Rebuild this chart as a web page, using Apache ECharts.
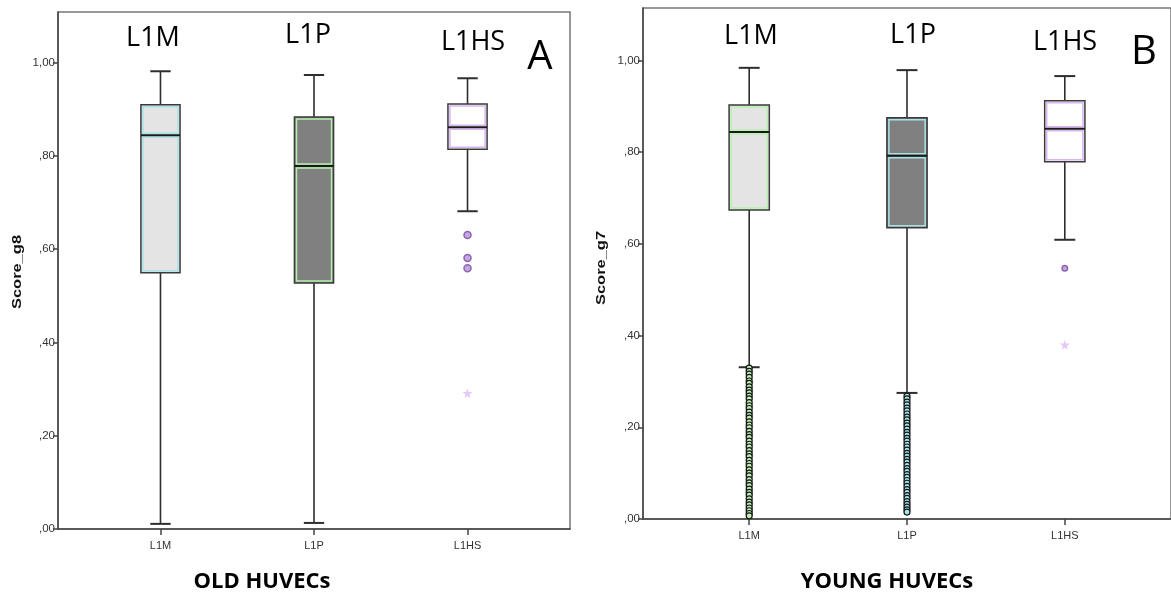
<!DOCTYPE html>
<html>
<head>
<meta charset="utf-8">
<script src="https://cdn.jsdelivr.net/npm/echarts@6/dist/echarts.min.js"></script>
<style>
html,body{margin:0;padding:0;background:#fff;}
#chart{width:1171px;height:596px;}
</style>
</head>
<body>
<div id="chart"></div>
<script>
// ---------- data ----------
const categories = ['L1M', 'L1P', 'L1HS'];
const yTicks = [0, 0.2, 0.4, 0.6, 0.8, 1.0];
const yTickLabels = [',00', ',20', ',40', ',60', ',80', '1,00'];

// [min whisker, Q1, median, Q3, max whisker]
const oldBoxes = [
  [0.011, 0.549, 0.844, 0.909, 0.981],
  [0.013, 0.527, 0.778, 0.883, 0.973],
  [0.681, 0.814, 0.861, 0.911, 0.966]
];
const youngBoxes = [
  [0.331, 0.674, 0.844, 0.903, 0.984],
  [0.275, 0.635, 0.792, 0.875, 0.979],
  [0.609, 0.779, 0.851, 0.912, 0.966]
];

const oldOutliersL1HS = [0.630, 0.581, 0.559];
const oldExtremesL1HS = [0.291];

const youngOutliersL1M = [0.329, 0.322, 0.316, 0.309, 0.301, 0.296, 0.288, 0.281, 0.275, 0.268,
  0.262, 0.254, 0.247, 0.241, 0.233, 0.226, 0.220, 0.212, 0.205, 0.199, 0.191, 0.184, 0.178,
  0.170, 0.163, 0.157, 0.149, 0.142, 0.136, 0.128, 0.121, 0.115, 0.107, 0.100, 0.094, 0.086,
  0.079, 0.073, 0.065, 0.058, 0.052, 0.044, 0.037, 0.031, 0.024, 0.018, 0.012, 0.007];
const youngOutliersL1P = [0.268, 0.262, 0.255, 0.249, 0.242, 0.236, 0.229, 0.222, 0.216, 0.209,
  0.203, 0.196, 0.189, 0.183, 0.176, 0.170, 0.163, 0.157, 0.150, 0.143, 0.137, 0.130, 0.124,
  0.117, 0.110, 0.104, 0.097, 0.091, 0.084, 0.078, 0.071, 0.064, 0.058, 0.051, 0.045, 0.038,
  0.032, 0.026, 0.020, 0.015];
const youngOutliersL1HS = [0.547];
const youngExtremesL1HS = [0.380];

// ---------- styles ----------
const boxFill = ['#e4e4e4', '#808080', '#ffffff'];
const oldInner = ['#a6e4ea', '#b8f0b0', '#d9b4f2'];
const youngInner = ['#b8f0b0', '#a6e4ea', '#d9b4f2'];
const dark = '#2e2e2e';
const starPath = 'path://M50,0 L61,35 L98,35 L68,57 L79,91 L50,70 L21,91 L32,57 L2,35 L39,35 Z';

function makeRender(innerColors) {
  return function (params, api) {
    const x = api.value(0);
    const v = [1, 2, 3, 4, 5].map(i => api.value(i));
    const p = v.map(val => api.coord([x, val]));
    const cx = p[0][0];
    const w = api.size([1, 0])[0] * 0.255;
    const cap = w * 0.52;
    const left = cx - w / 2;
    const i = params.dataIndex;
    const inset = 2;
    const children = [
      { type: 'line', shape: { x1: cx, y1: p[0][1], x2: cx, y2: p[1][1] }, style: { stroke: dark, lineWidth: 1.6 } },
      { type: 'line', shape: { x1: cx, y1: p[3][1], x2: cx, y2: p[4][1] }, style: { stroke: dark, lineWidth: 1.6 } },
      { type: 'line', shape: { x1: cx - cap / 2, y1: p[0][1], x2: cx + cap / 2, y2: p[0][1] }, style: { stroke: dark, lineWidth: 2 } },
      { type: 'line', shape: { x1: cx - cap / 2, y1: p[4][1], x2: cx + cap / 2, y2: p[4][1] }, style: { stroke: dark, lineWidth: 2 } },
      { type: 'rect', shape: { x: left, y: p[3][1], width: w, height: p[1][1] - p[3][1] }, style: { fill: boxFill[i], stroke: null } },
      { type: 'rect', shape: { x: left + inset, y: p[3][1] + inset, width: w - 2 * inset, height: p[2][1] - p[3][1] - 2 * inset }, style: { fill: null, stroke: innerColors[i], lineWidth: 1.5 } },
      { type: 'rect', shape: { x: left + inset, y: p[2][1] + inset, width: w - 2 * inset, height: p[1][1] - p[2][1] - 2 * inset }, style: { fill: null, stroke: innerColors[i], lineWidth: 1.5 } },
      { type: 'rect', shape: { x: left, y: p[3][1], width: w, height: p[1][1] - p[3][1] }, style: { fill: null, stroke: '#3a3a3a', lineWidth: 1.5 } },
      { type: 'line', shape: { x1: left, y1: p[2][1], x2: left + w, y2: p[2][1] }, style: { stroke: '#1a1a1a', lineWidth: 2 } }
    ];
    return { type: 'group', children: children };
  };
}

const yFmt = v => {
  const k = yTicks.findIndex(t => Math.abs(t - v) < 1e-6);
  return k >= 0 ? yTickLabels[k] : '';
};
const xFmt = v => categories[Math.round(v)] || '';

const labelFont = "'Liberation Sans Narrow', 'Liberation Sans', Arial, sans-serif";

function makeX(gridIndex, min, max) {
  return {
    type: 'value', gridIndex, min, max,
    splitLine: { show: false },
    axisLine: { show: true, onZero: false, lineStyle: { color: '#444', width: 1.5 } },
    axisTick: { show: true, customValues: [0, 1, 2], length: 6, lineStyle: { color: '#444', width: 1.5 } },
    axisLabel: { customValues: [0, 1, 2], formatter: xFmt, color: '#333', fontSize: 11, fontFamily: labelFont, margin: 11 }
  };
}
function makeY(gridIndex, max) {
  return {
    type: 'value', gridIndex, min: 0, max,
    splitLine: { show: false },
    axisLine: { show: true, onZero: false, lineStyle: { color: '#444', width: 1.5 } },
    axisTick: { show: true, customValues: yTicks, length: 5, lineStyle: { color: '#444', width: 1.5 } },
    axisLabel: { customValues: yTicks, formatter: yFmt, color: '#333', fontSize: 11.5, fontFamily: labelFont, margin: 3 }
  };
}

const chart = echarts.init(document.getElementById('chart'), null, { renderer: 'canvas' });

const txt = (text, x, y, size, weight) => ({
  type: 'text', x, y, z: 100,
  style: { text, fill: '#000', fontSize: size, fontWeight: weight || 'normal', fontFamily: "'Open Sans', 'Noto Sans', sans-serif", align: 'center', verticalAlign: 'middle' }
});
const yName = (text, x, y) => ({
  type: 'text', x, y, rotation: Math.PI / 2, scaleX: 1.22, z: 100,
  style: { text, fill: '#111', fontSize: 13.5, fontWeight: 'bold', fontFamily: "'Liberation Sans', Arial, sans-serif", align: 'center', verticalAlign: 'middle' }
});

chart.setOption({
  animation: false,
  backgroundColor: '#ffffff',
  grid: [
    { left: 58, top: 12, width: 512, height: 517, show: true, borderColor: '#777', borderWidth: 1.5, backgroundColor: 'transparent' },
    { left: 643, top: 8, width: 532, height: 511, show: true, borderColor: '#777', borderWidth: 1.5, backgroundColor: 'transparent' }
  ],
  xAxis: [makeX(0, -0.6675, 2.6675), makeX(1, -0.673, 2.673)],
  yAxis: [makeY(0, 1.108), makeY(1, 1.1145)],
  series: [
    {
      type: 'custom', xAxisIndex: 0, yAxisIndex: 0, renderItem: makeRender(oldInner),
      encode: { x: 0, y: [1, 2, 3, 4, 5] },
      data: oldBoxes.map((b, i) => [i].concat(b))
    },
    {
      type: 'custom', xAxisIndex: 1, yAxisIndex: 1, renderItem: makeRender(youngInner),
      encode: { x: 0, y: [1, 2, 3, 4, 5] },
      data: youngBoxes.map((b, i) => [i].concat(b))
    },
    {
      type: 'scatter', xAxisIndex: 0, yAxisIndex: 0, symbol: 'circle', symbolSize: 7,
      itemStyle: { color: '#c7a6e4', borderColor: '#8a66ad', borderWidth: 1.5, opacity: 1 },
      data: oldOutliersL1HS.map(v => [2, v])
    },
    {
      type: 'scatter', xAxisIndex: 0, yAxisIndex: 0, symbol: starPath, symbolSize: 10,
      itemStyle: { color: '#e6c8f5', opacity: 1 },
      data: oldExtremesL1HS.map(v => [2, v])
    },
    {
      type: 'scatter', xAxisIndex: 1, yAxisIndex: 1, symbol: 'circle', symbolSize: 6,
      itemStyle: { color: '#bff0b5', borderColor: '#141414', borderWidth: 1.2, opacity: 1 },
      data: youngOutliersL1M.map(v => [0, v])
    },
    {
      type: 'scatter', xAxisIndex: 1, yAxisIndex: 1, symbol: 'circle', symbolSize: 6,
      itemStyle: { color: '#a6e6ee', borderColor: '#141414', borderWidth: 1.2, opacity: 1 },
      data: youngOutliersL1P.map(v => [1, v])
    },
    {
      type: 'scatter', xAxisIndex: 1, yAxisIndex: 1, symbol: 'circle', symbolSize: 5.5,
      itemStyle: { color: '#c7a6e4', borderColor: '#8a66ad', borderWidth: 1.5, opacity: 1 },
      data: youngOutliersL1HS.map(v => [2, v])
    },
    {
      type: 'scatter', xAxisIndex: 1, yAxisIndex: 1, symbol: starPath, symbolSize: 10,
      itemStyle: { color: '#e6c8f5', opacity: 1 },
      data: youngExtremesL1HS.map(v => [2, v])
    }
  ],
  graphic: [
    txt('L1M', 153, 38, 27),
    txt('L1P', 308, 35, 27),
    txt('L1HS', 473, 42, 27),
    txt('A', 540, 58, 40),
    txt('L1M', 751, 36, 27),
    txt('L1P', 913, 35, 27),
    txt('L1HS', 1065, 42, 27),
    txt('B', 1144, 53, 40),
    txt('OLD HUVECs', 262, 582, 22, 'bold'),
    txt('YOUNG HUVECs', 887, 582, 22, 'bold'),
    yName('Score_g8', 17, 272),
    yName('Score_g7', 601, 268)
  ]
});
</script>
</body>
</html>
